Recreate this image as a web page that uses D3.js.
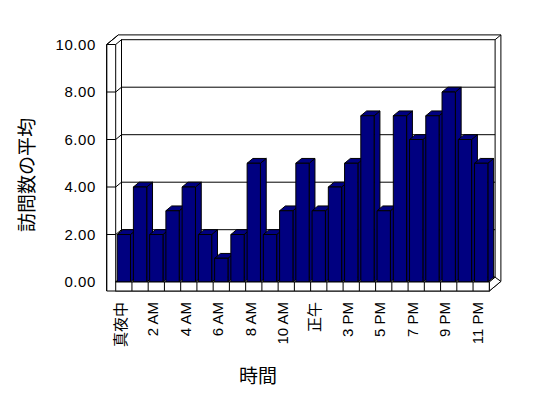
<!DOCTYPE html>
<html>
<head>
<meta charset="utf-8">
<script src="https://cdn.jsdelivr.net/npm/d3@7"></script>
<style>
  body { margin: 0; background: #fff; }
  text { font-family: "Liberation Sans", "Noto Sans CJK JP", sans-serif; fill: #000; }
</style>
</head>
<body>
<div id="d3-container"></div>
<script>
/**
 * CONSTANTS AND GLOBALS
 * */
const width = 548,
  height = 398;

// hours of the day (1 PM has no data in the source, so it's not there)
const categories = [
  "真夜中", "1 AM", "2 AM", "3 AM", "4 AM", "5 AM", "6 AM", "7 AM", "8 AM", "9 AM", "10 AM", "11 AM",
  "正午", "2 PM", "3 PM", "4 PM", "5 PM", "6 PM", "7 PM", "8 PM", "9 PM", "10 PM", "11 PM"
];
const visits = [2, 4, 2, 3, 4, 2, 1, 2, 5, 2, 3, 5, 3, 4, 5, 7, 3, 7, 6, 7, 8, 6, 5];
const yTicks = [0, 2, 4, 6, 8, 10];
const xTickLabels = ["真夜中", "2 AM", "4 AM", "6 AM", "8 AM", "10 AM", "正午", "3 PM", "5 PM", "7 PM", "9 PM", "11 PM"];

// front plane of the 3d box and the depth offset
const front = { left: 115.7, right: 489.3, bottom: 282, top: 44.5 };
const depth = { dx: 5.8, dy: -4.8 };
const slab = 9; // thickness of floor / left wall

const x = d3.scaleBand()
  .domain(categories)
  .range([front.left, front.right])
  .paddingInner(0.18)
  .paddingOuter(0.09);

const y = d3.scaleLinear()
  .domain([0, 10])
  .range([front.bottom, front.top]);

const svg = d3.select("#d3-container")
  .append("svg")
  .attr("width", width)
  .attr("height", height);

svg.append("rect").attr("width", width).attr("height", height).attr("fill", "#fff");

const box = svg.append("g")
  .attr("fill", "#fff")
  .attr("stroke", "#000")
  .attr("stroke-width", 1);

const pts = arr => arr.map(p => p.join(",")).join(" ");
const dx = depth.dx, dy = depth.dy;
const outerLeft = front.left - slab;
const floorBottom = front.bottom + slab;

// back wall (slab: outline of back face, then its top, then front face)
box.append("polygon").attr("points", pts([
  [outerLeft + 2 * dx, y(10) + 2 * dy],
  [front.right + 2 * dx, y(10) + 2 * dy],
  [front.right + 2 * dx, floorBottom + 2 * dy],
  [front.right, floorBottom],
  [outerLeft, floorBottom],
  [outerLeft, y(10)]
]));
box.append("rect")
  .attr("x", front.left + dx)
  .attr("y", y(10) + dy)
  .attr("width", front.right - front.left)
  .attr("height", y(0) - y(10));
box.append("line")
  .attr("x1", front.right + dx).attr("y1", y(10) + dy)
  .attr("x2", front.right + 2 * dx).attr("y2", y(10) + 2 * dy);

// left wall inner face
box.append("polygon").attr("points", pts([
  [front.left, y(10)], [front.left + dx, y(10) + dy],
  [front.left + dx, y(0) + dy], [front.left, y(0)]
]));
box.append("line")
  .attr("x1", outerLeft).attr("y1", y(10))
  .attr("x2", outerLeft + 2 * dx).attr("y2", y(10) + 2 * dy);

// gridlines: left wall front edge, left wall, back wall
box.selectAll(".grid")
  .data(yTicks.slice(1, -1))
  .join("polyline")
  .attr("class", "grid")
  .attr("fill", "none")
  .attr("points", d => pts([
    [outerLeft, y(d)], [front.left, y(d)],
    [front.left + dx, y(d) + dy], [front.right + dx, y(d) + dy]
  ]));

// floor top + right side
box.append("polygon").attr("points", pts([
  [front.left, y(0)], [front.right, y(0)],
  [front.right + dx, y(0) + dy], [front.left + dx, y(0) + dy]
]));
box.append("polygon").attr("points", pts([
  [front.right, y(0)], [front.right + dx, y(0) + dy],
  [front.right + 2 * dx, floorBottom + 2 * dy], [front.right, floorBottom]
]));

// left wall front edge
box.append("polyline")
  .attr("fill", "none")
  .attr("points", pts([
    [front.left, y(10)], [outerLeft, y(10)], [outerLeft, floorBottom]
  ]));

// bars, drawn left to right so right bars cover left bars' sides
const bars = svg.append("g")
  .selectAll("g.bar")
  .data(visits)
  .join("g")
  .attr("class", "bar")
  .attr("fill", "#000080")
  .attr("stroke", "#000")
  .attr("stroke-width", 1)
  .attr("stroke-linejoin", "round");

bars.each(function (d, i) {
  const g = d3.select(this);
  const x0 = x(categories[i]), x1 = x0 + x.bandwidth();
  const yt = y(d), yb = y(0);
  g.append("polygon").attr("points", pts([
    [x1, yt], [x1 + dx, yt + dy], [x1 + dx, yb + dy], [x1, yb]
  ]));
  g.append("polygon").attr("points", pts([
    [x0, yt], [x0 + dx, yt + dy], [x1 + dx, yt + dy], [x1, yt]
  ]));
  g.append("rect")
    .attr("x", x0).attr("y", yt)
    .attr("width", x.bandwidth()).attr("height", yb - yt);
});

// floor front face with category dividers
const floor = svg.append("g")
  .attr("fill", "#fff")
  .attr("stroke", "#000");
floor.append("rect")
  .attr("x", front.left).attr("y", front.bottom)
  .attr("width", front.right - front.left).attr("height", slab);
floor.selectAll("line")
  .data(categories.slice(1))
  .join("line")
  .attr("x1", d => x(d) - x.step() * x.paddingInner() / 2)
  .attr("x2", d => x(d) - x.step() * x.paddingInner() / 2)
  .attr("y1", front.bottom)
  .attr("y2", floorBottom);

// y tick labels
svg.append("g")
  .selectAll("text")
  .data(yTicks)
  .join("text")
  .attr("x", 96)
  .attr("y", d => y(d))
  .attr("dy", "0.35em")
  .attr("text-anchor", "end")
  .attr("font-size", 15)
  .attr("letter-spacing", "0.6px")
  .text(d => d.toFixed(2));

// x tick labels, every other hour, rotated
svg.append("g")
  .selectAll("text")
  .data(xTickLabels)
  .join("text")
  .attr("transform", d => `translate(${x(d) + x.bandwidth() / 2 - 3.5}, 302) rotate(-90)`)
  .attr("dy", "0.35em")
  .attr("text-anchor", "end")
  .attr("font-size", 15)
  .text(d => d);

// axis titles
svg.append("text")
  .attr("transform", "translate(27, 175) rotate(-90)")
  .attr("dy", "0.35em")
  .attr("text-anchor", "middle")
  .attr("font-size", 19)
  .text("訪問数の平均");

svg.append("text")
  .attr("x", 258)
  .attr("y", 376)
  .attr("dy", "0.35em")
  .attr("text-anchor", "middle")
  .attr("font-size", 19)
  .text("時間");
</script>
</body>
</html>
